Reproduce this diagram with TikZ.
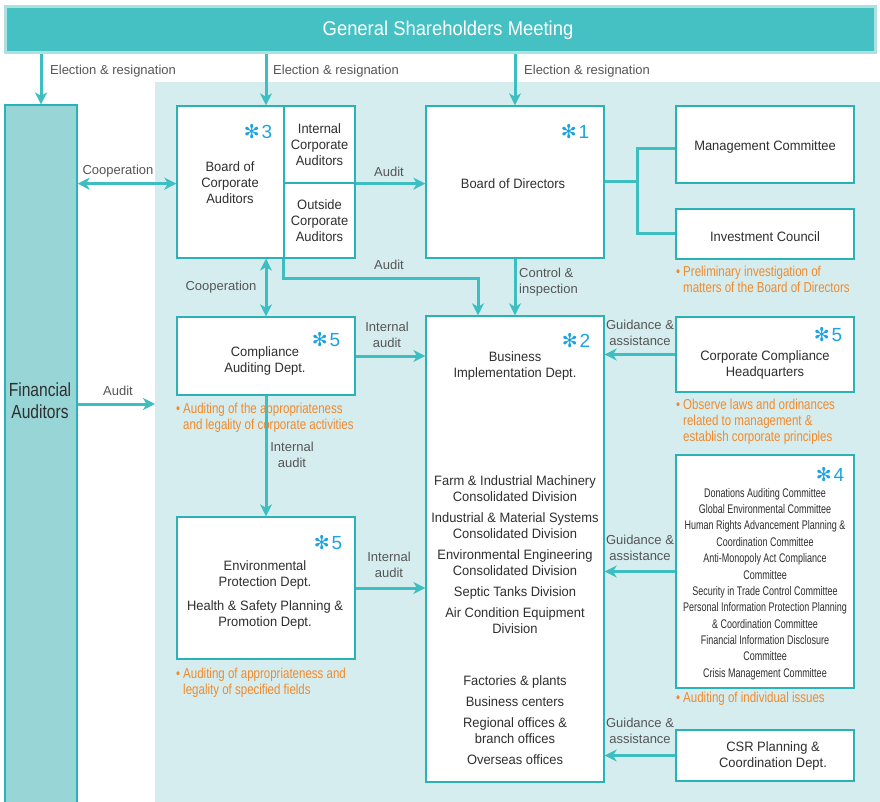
\documentclass[tikz,border=0pt]{standalone}
\usepackage{fontspec}
\setmainfont{Liberation Sans}
\newfontfamily\boxfont[FakeStretch=0.95]{Liberation Sans}
\newfontfamily\condfont[FakeStretch=0.72]{Liberation Sans}
\newfontfamily\notefont[FakeStretch=0.8]{Liberation Sans}
\newfontfamily\fafont[FakeStretch=0.82]{Liberation Sans}
\newfontfamily\titlefont[FakeStretch=0.92]{Liberation Sans}
\newfontfamily\symfont{DejaVu Sans}
\usetikzlibrary{arrows.meta}

\definecolor{lineteal}{HTML}{3DBFC2}
\definecolor{edgeteal}{HTML}{2AB3B6}
\definecolor{bannerteal}{HTML}{45C1C4}
\definecolor{bannerhalo}{HTML}{AEE0E1}
\definecolor{zonebg}{HTML}{D6EDEF}
\definecolor{fafill}{HTML}{97D5D6}
\definecolor{boxtext}{HTML}{2F2F2F}
\definecolor{labeltext}{HTML}{555555}
\definecolor{notetext}{HTML}{F08A2C}
\definecolor{starblue}{HTML}{1CA3E0}

\newcommand{\refmark}[1]{{\symfont ✻}\kern2pt#1}
\newcommand{\bul}{•\kern3pt}
\newcommand{\bulgap}{\hphantom{•\kern3pt}}

\begin{document}
\begin{tikzpicture}[x=1pt,y=-1pt,
  box/.style={draw=edgeteal,line width=1.3pt,fill=white,inner sep=0pt,
    text=boxtext,align=center,font=\boxfont\fontsize{13.6}{16}\selectfont},
  boxtxt/.style={text=boxtext,align=center,inner sep=0pt,font=\boxfont\fontsize{13.6}{16}\selectfont},
  lbl/.style={text=labeltext,align=center,inner sep=0pt,font=\fontsize{13}{16}\selectfont},
  note/.style={text=notetext,align=left,inner sep=0pt,anchor=west,
    font=\notefont\fontsize{14.4}{16}\selectfont},
  starmark/.style={text=starblue,inner sep=0pt,font=\fontsize{19}{20}\selectfont},
  arr/.style={draw=lineteal,line width=3pt,
    -{Stealth[length=12pt,width=12pt,inset=3.5pt]}},
  dblarr/.style={draw=lineteal,line width=3pt,
    {Stealth[length=12pt,width=12pt,inset=3.5pt]}-{Stealth[length=12pt,width=12pt,inset=3.5pt]}},
  conn/.style={draw=lineteal,line width=3pt}]

\useasboundingbox (0,0) rectangle (880,802);
\fill[white] (0,0) rectangle (880,802);

% shaded company zone
\fill[zonebg] (155,82) rectangle (880,802);

% shareholders banner
\node[fill=bannerteal,draw=bannerhalo,line width=3pt,minimum width=870pt,
  minimum height=46pt,inner sep=0pt] (gsm) at (440,30) {};
\node[text=white,inner sep=0pt,font=\titlefont\fontsize{20}{22}\selectfont]
  (gsmtxt) at (448,30) {General Shareholders Meeting};

% financial auditors column
\node[draw=edgeteal,line width=1.2pt,fill=fafill,minimum width=72pt,
  minimum height=705pt,inner sep=0pt] (fa) at (41,457.5) {};
\node[text=boxtext,align=center,inner sep=0pt,
  font=\fafont\fontsize{19}{22}\selectfont] (fatxt) at (40,401) {Financial\\Auditors};

% board of corporate auditors
\node[box,minimum width=178pt,minimum height=152pt] (boca) at (266,182) {};
\node[box,minimum width=71pt,minimum height=77pt] (ica) at (319.5,144.5) {Internal\\Corporate\\Auditors};
\node[box,minimum width=71pt,minimum height=75pt] (oca) at (319.5,220.5) {Outside\\Corporate\\Auditors};
\node[boxtxt] (bocatxt) at (230,183) {Board of\\Corporate\\Auditors};
\node[starmark] (s3) at (258,132) {\refmark{3}};

% board of directors and its committees
\node[box,minimum width=178pt,minimum height=152pt] (bod) at (515,182) {};
\node[boxtxt] (bodtxt) at (513,184) {Board of Directors};
\node[starmark] (s1) at (575,132) {\refmark{1}};
\node[box,minimum width=178pt,minimum height=77pt] (mc) at (765,144.5) {};
\node[boxtxt] (mctxt) at (765,147) {Management Committee};
\node[box,minimum width=178pt,minimum height=50pt] (ic) at (765,234) {};
\node[boxtxt] (ictxt) at (765,237) {Investment Council};
\node[note] (icnote) at (676,279) {\bul Preliminary investigation of\\\bulgap matters of the Board of Directors};

% compliance auditing dept.
\node[box,minimum width=178pt,minimum height=78pt] (cad) at (266,356) {};
\node[boxtxt] (cadtxt) at (265,361) {Compliance\\Auditing Dept.};
\node[starmark] (s5a) at (326,340) {\refmark{5}};
\node[note] (cadnote) at (176,418) {\bul Auditing of the appropriateness\\\bulgap and legality of corporate activities};

% environmental / health & safety dept.
\node[box,minimum width=178pt,minimum height=142pt] (epd) at (266,588) {};
\node[boxtxt] (epdtxt) at (265,595) {Environmental\\Protection Dept.\\[8pt]Health \& Safety Planning \&\\Promotion Dept.};
\node[starmark] (s5b) at (328,543) {\refmark{5}};
\node[note] (epdnote) at (176,683) {\bul Auditing of appropriateness and\\\bulgap legality of specified fields};

% business implementation dept.
\node[box,minimum width=178pt,minimum height=466pt] (bid) at (515,549) {};
\node[boxtxt] (bidtxt) at (515,366) {Business\\Implementation Dept.};
\node[starmark] (s2) at (576,341) {\refmark{2}};
\node[boxtxt] (divs) at (515,554.5) {Farm \& Industrial Machinery\\Consolidated Division\\[5pt]
  Industrial \& Material Systems\\Consolidated Division\\[5pt]
  Environmental Engineering\\Consolidated Division\\[5pt]
  Septic Tanks Division\\[5pt]
  Air Condition Equipment\\Division};
\node[boxtxt] (sites) at (515,720) {Factories \& plants\\[5.5pt]Business centers\\[5pt]
  Regional offices \&\\branch offices\\[5pt]Overseas offices};

% corporate compliance headquarters
\node[box,minimum width=178pt,minimum height=75pt] (cch) at (765,354.5) {};
\node[boxtxt] (cchtxt) at (765,365) {Corporate Compliance\\Headquarters};
\node[starmark] (s5c) at (828,335) {\refmark{5}};
\node[note] (cchnote) at (676,422) {\bul Observe laws and ordinances\\\bulgap related to management \&\\\bulgap establish corporate principles};

% committees
\node[box,minimum width=178pt,minimum height=233pt] (com) at (765,571.5) {};
\node[starmark] (s4) at (830,475) {\refmark{4}};
\node[text=boxtext,align=center,inner sep=0pt,
  font=\condfont\fontsize{12.5}{16.36}\selectfont] (comtxt) at (765,584) {Donations Auditing Committee\\
  Global Environmental Committee\\
  Human Rights Advancement Planning \&\\Coordination Committee\\
  Anti-Monopoly Act Compliance\\Committee\\
  Security in Trade Control Committee\\
  Personal Information Protection Planning\\\& Coordination Committee\\
  Financial Information Disclosure\\Committee\\
  Crisis Management Committee};
\node[note] (comnote) at (676,699) {\bul Auditing of individual issues};

% CSR planning
\node[box,minimum width=178pt,minimum height=51pt] (csr) at (765,755.5) {};
\node[boxtxt] (csrtxt) at (773,756) {CSR Planning \&\\Coordination Dept.};

% election arrows
\draw[arr] (gsm.south -| fa.north) -- (fa.north);
\draw[arr] (gsm.south -| boca.north) -- (boca.north);
\draw[arr] (gsm.south -| bod.north) -- (bod.north);
\node[lbl,anchor=west] (el1) at (50,71) {Election \& resignation};
\node[lbl,anchor=west] (el2) at (273,71) {Election \& resignation};
\node[lbl,anchor=west] (el3) at (524,71) {Election \& resignation};

% cooperation with financial auditors
\draw[dblarr] (fa.east |- ica.south) -- (boca.west |- ica.south);
\node[lbl] (coop1) at (118,171) {Cooperation};

% audit of the board of directors
\draw[arr] (ica.south east) -- (ica.south east -| bod.west);
\node[lbl] (aud1) at (389,172) {Audit};

% audit of the business implementation dept.
\coordinate (audturn) at (478,278);
\draw[arr] (oca.south west) |- (audturn) -- (audturn |- bid.north);
\node[lbl] (aud2) at (389,265) {Audit};

% control & inspection
\draw[arr] (bod.south) -- (bid.north);
\node[lbl,anchor=west,align=left] (ctrl) at (519,282) {Control \&\\inspection};

% board of directors to committees
\coordinate (split) at (637,182);
\draw[conn] (bod.east) -- (split);
\draw[conn] (mc.west |- 0,149) -| (split) |- (ic.west);

% cooperation between auditors
\draw[dblarr] (boca.south) -- (cad.north);
\node[lbl] (coop2) at (221,287) {Cooperation};

% internal audits
\draw[arr] (cad.east) -- (cad.east -| bid.west);
\node[lbl] (ia1) at (387,335) {Internal\\audit};
\draw[arr] (cad.south) -- (epd.north);
\node[lbl] (ia2) at (292,455) {Internal\\audit};
\draw[arr] (epd.east) -- (epd.east -| bid.west);
\node[lbl] (ia3) at (389,565) {Internal\\audit};

% financial audit
\coordinate (faaudit) at (155,404);
\draw[arr] (fa.east |- faaudit) -- (faaudit);
\node[lbl] (aud3) at (118,391) {Audit};

% guidance & assistance
\draw[arr] (cch.west) -- (cch.west -| bid.east);
\node[lbl] (ga1) at (640,333) {Guidance \&\\assistance};
\draw[arr] (com.west) -- (com.west -| bid.east);
\node[lbl] (ga2) at (640,548) {Guidance \&\\assistance};
\draw[arr] (csr.west) -- (csr.west -| bid.east);
\node[lbl] (ga3) at (640,731) {Guidance \&\\assistance};

\end{tikzpicture}
\end{document}
